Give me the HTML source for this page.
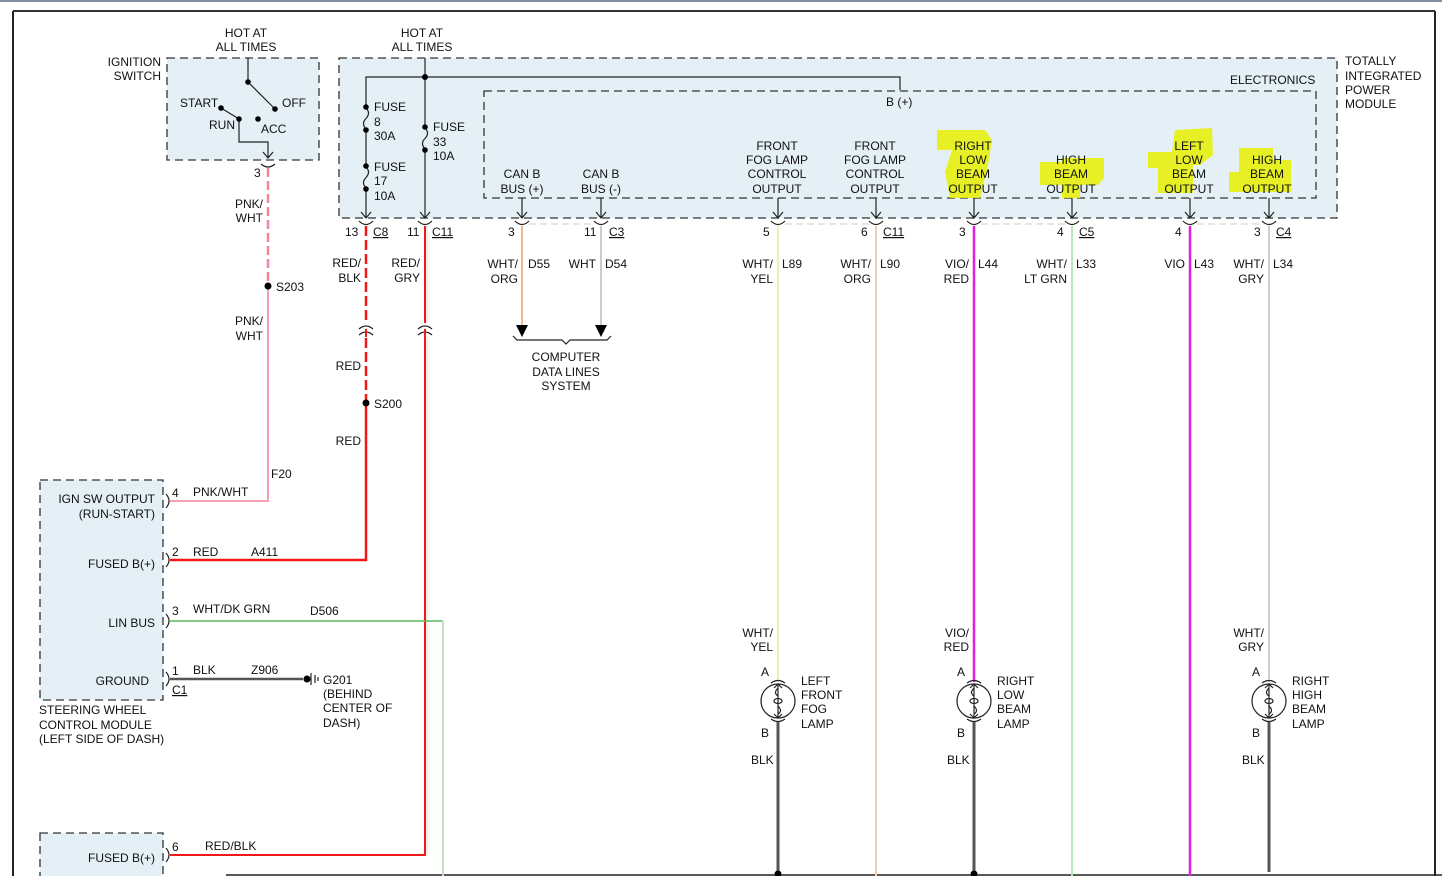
<!DOCTYPE html>
<html><head><meta charset="utf-8"><style>
html,body{margin:0;padding:0;background:#fff;}
svg{display:block;}
text{font-family:"Liberation Sans",sans-serif;font-size:12px;fill:#111;}
.r{text-anchor:end}.m{text-anchor:middle}
.box{fill:#e4f0f6;stroke:#333;stroke-width:1.3;stroke-dasharray:8,5}
.ibox{fill:none;stroke:#333;stroke-width:1.3;stroke-dasharray:8,5}
.k{stroke:#222;stroke-width:1.2;fill:none}
.hl{fill:#e8f000;opacity:.85}
</style></head><body>
<svg width="1442" height="876" viewBox="0 0 1442 876" xmlns="http://www.w3.org/2000/svg">
<rect x="0" y="0" width="1442" height="876" fill="#fff"/>
<!-- frame -->
<line x1="0" y1="1" x2="1442" y2="1" stroke="#8090a0" stroke-width="2"/>
<line x1="13" y1="11" x2="1435" y2="11" stroke="#333" stroke-width="2"/>
<line x1="13" y1="11" x2="13" y2="876" stroke="#222" stroke-width="2"/>
<line x1="1435" y1="11" x2="1435" y2="876" stroke="#222" stroke-width="2"/>
<line x1="226" y1="875" x2="1442" y2="875" stroke="#222" stroke-width="1.5"/>

<!-- Ignition switch -->
<rect class="box" x="167" y="58" width="152" height="102"/>
<text class="m" x="246" y="37">HOT AT</text><text class="m" x="246" y="51">ALL TIMES</text>
<text class="r" x="161" y="66">IGNITION</text><text class="r" x="161" y="80">SWITCH</text>
<path class="k" d="M248 58V82L275 109"/>
<circle cx="248" cy="82" r="2.8"/><circle cx="275" cy="109" r="2.8"/>
<text x="282" y="107">OFF</text>
<path class="k" d="M221 108L239 119V142H268V158M263 152L268 158L273 152"/>
<circle cx="221" cy="108" r="2.8"/><circle cx="239" cy="119" r="2.8"/><circle cx="258" cy="119" r="2.8"/>
<text x="180" y="107">START</text><text x="209" y="129">RUN</text><text x="261" y="133">ACC</text>
<path class="k" d="M261 164Q268 170 275 164"/>
<text x="254" y="177">3</text>

<!-- pink wire -->
<line x1="268" y1="168" x2="268" y2="286" stroke="#f08898" stroke-width="2.5" stroke-dasharray="9,4"/>
<line x1="268" y1="286" x2="268" y2="501" stroke="#f4a0b0" stroke-width="2"/>
<line x1="170" y1="501" x2="269" y2="501" stroke="#f4a0b0" stroke-width="2"/>
<circle cx="268" cy="286" r="3.5"/>
<text x="276" y="291">S203</text>
<text class="r" x="263" y="208">PNK/</text><text class="r" x="263" y="222">WHT</text>
<text class="r" x="263" y="325">PNK/</text><text class="r" x="263" y="340">WHT</text>
<text x="271" y="478">F20</text>

<!-- TIPM -->
<rect class="box" x="339" y="58" width="998" height="160"/>
<rect class="ibox" x="484" y="91" width="832" height="107"/>
<text class="m" x="422" y="37">HOT AT</text><text class="m" x="422" y="51">ALL TIMES</text>
<text x="1230" y="84">ELECTRONICS</text>
<text x="1345" y="65">TOTALLY</text><text x="1345" y="80">INTEGRATED</text><text x="1345" y="94">POWER</text><text x="1345" y="108">MODULE</text>
<path class="k" d="M366 218V77H900V90"/>
<line x1="425" y1="58" x2="425" y2="218" class="k"/>
<circle cx="425" cy="77" r="3"/>
<text x="886" y="106">B (+)</text>
<!-- fuses (cover straight segments) -->
<line x1="366" y1="108" x2="366" y2="129" stroke="#e4f0f6" stroke-width="3"/>
<line x1="366" y1="167" x2="366" y2="188" stroke="#e4f0f6" stroke-width="3"/>
<line x1="425" y1="128" x2="425" y2="149" stroke="#e4f0f6" stroke-width="3"/>
<path class="k" d="M366 108q5 5 0 10.5q-5 5 0 10.5M366 167q5 5 0 10.5q-5 5 0 10.5M425 128q5 5 0 10.5q-5 5 0 10.5"/>
<circle cx="366" cy="107" r="2.8"/><circle cx="366" cy="130" r="2.8"/>
<circle cx="366" cy="166" r="2.8"/><circle cx="366" cy="189" r="2.8"/>
<circle cx="425" cy="127" r="2.8"/><circle cx="425" cy="150" r="2.8"/>
<text x="374" y="111">FUSE</text><text x="374" y="126">8</text><text x="374" y="140">30A</text>
<text x="374" y="171">FUSE</text><text x="374" y="185">17</text><text x="374" y="200">10A</text>
<text x="433" y="131">FUSE</text><text x="433" y="146">33</text><text x="433" y="160">10A</text>
<path class="k" d="M361 212L366 218L371 212M420 212L425 218L430 212"/>

<!-- highlights -->
<path class="hl" d="M937 130H985L992 140L988 165L980 198H950L945 172L952 150H937Z"/>
<path class="hl" d="M1040 162H1062V158H1104V178L1098 185H1080V198H1062V185H1040Z"/>
<path class="hl" d="M1175 130L1212 128L1213 155L1200 165H1193V193H1158V168H1148V152H1172Z"/>
<path class="hl" d="M1239 148H1273V160H1291V192H1229V172H1239Z"/>

<!-- outputs labels -->
<text class="m" x="522" y="178">CAN B</text><text class="m" x="522" y="193">BUS (+)</text>
<text class="m" x="601" y="178">CAN B</text><text class="m" x="601" y="193">BUS (-)</text>
<g class="m">
<text class="m" x="777" y="150">FRONT</text><text class="m" x="777" y="164">FOG LAMP</text><text class="m" x="777" y="178">CONTROL</text><text class="m" x="777" y="193">OUTPUT</text>
<text class="m" x="875" y="150">FRONT</text><text class="m" x="875" y="164">FOG LAMP</text><text class="m" x="875" y="178">CONTROL</text><text class="m" x="875" y="193">OUTPUT</text>
<text class="m" x="973" y="150">RIGHT</text><text class="m" x="973" y="164">LOW</text><text class="m" x="973" y="178">BEAM</text><text class="m" x="973" y="193">OUTPUT</text>
<text class="m" x="1071" y="164">HIGH</text><text class="m" x="1071" y="178">BEAM</text><text class="m" x="1071" y="193">OUTPUT</text>
<text class="m" x="1189" y="150">LEFT</text><text class="m" x="1189" y="164">LOW</text><text class="m" x="1189" y="178">BEAM</text><text class="m" x="1189" y="193">OUTPUT</text>
<text class="m" x="1267" y="164">HIGH</text><text class="m" x="1267" y="178">BEAM</text><text class="m" x="1267" y="193">OUTPUT</text>
</g>
<!-- arrows from inner box -->
<path class="k" d="M522 198V218M517 212L522 218L527 212M601 198V218M596 212L601 218L606 212
M778 198V218M773 212L778 218L783 212M876 198V218M871 212L876 218L881 212
M974 198V218M969 212L974 218L979 212M1072 198V218M1067 212L1072 218L1077 212
M1190 198V218M1185 212L1190 218L1195 212M1269 198V218M1264 212L1269 218L1274 212"/>
<!-- connector cups -->
<path class="k" d="M359 221Q366 228 373 221M418 221Q425 228 432 221M515 221Q522 228 529 221M594 221Q601 228 608 221M771 221Q778 228 785 221M869 221Q876 228 883 221M967 221Q974 228 981 221M1065 221Q1072 228 1079 221M1183 221Q1190 228 1197 221M1262 221Q1269 228 1276 221"/>
<line x1="529" y1="224" x2="594" y2="224" stroke="#ccc" stroke-dasharray="7,4"/>
<line x1="785" y1="224" x2="869" y2="224" stroke="#ccc" stroke-dasharray="7,4"/>
<line x1="981" y1="224" x2="1065" y2="224" stroke="#ccc" stroke-dasharray="7,4"/>
<line x1="1197" y1="224" x2="1262" y2="224" stroke="#ccc" stroke-dasharray="7,4"/>
<!-- pin labels -->
<text x="345" y="236">13</text><text x="373" y="236" text-decoration="underline">C8</text>
<text x="407" y="236">11</text><text x="432" y="236" text-decoration="underline">C11</text>
<text x="508" y="236">3</text>
<text x="584" y="236">11</text><text x="609" y="236" text-decoration="underline">C3</text>
<text x="763" y="236">5</text>
<text x="861" y="236">6</text><text x="883" y="236" text-decoration="underline">C11</text>
<text x="959" y="236">3</text>
<text x="1057" y="236">4</text><text x="1079" y="236" text-decoration="underline">C5</text>
<text x="1175" y="236">4</text>
<text x="1254" y="236">3</text><text x="1276" y="236" text-decoration="underline">C4</text>

<!-- red wires -->
<line x1="366" y1="226" x2="366" y2="403" stroke="#f01818" stroke-width="2.5" stroke-dasharray="10,4"/>
<path d="M366 403V560H170" stroke="#f01818" stroke-width="2.5" fill="none"/>
<path d="M425 226V855H170" stroke="#f01818" stroke-width="2" fill="none"/>
<line x1="427" y1="226" x2="427" y2="855" stroke="#ddd" stroke-width="1"/>
<rect x="358" y="323" width="16" height="14" fill="#fff"/><rect x="417" y="323" width="16" height="14" fill="#fff"/>
<path class="k" d="M359 329Q366 323 373 329M359 335Q366 329 373 335M418 329Q425 323 432 329M418 335Q425 329 432 335"/>
<line x1="366" y1="329" x2="366" y2="337" stroke="#f01818" stroke-width="2"/>
<line x1="425" y1="329" x2="425" y2="337" stroke="#f01818" stroke-width="2"/>
<circle cx="366" cy="403" r="3.5"/>
<text x="374" y="408">S200</text>
<text class="r" x="361" y="267">RED/</text><text class="r" x="361" y="282">BLK</text>
<text class="r" x="420" y="267">RED/</text><text class="r" x="420" y="282">GRY</text>
<text class="r" x="361" y="370">RED</text><text class="r" x="361" y="445">RED</text>

<!-- data lines -->
<line x1="522" y1="226" x2="522" y2="326" stroke="#f0b890" stroke-width="2"/>
<line x1="601" y1="226" x2="601" y2="326" stroke="#ccc" stroke-width="2"/>
<path d="M516 325H528L522 337Z M595 325H607L601 337Z" fill="#000"/>
<path class="k" d="M513 336L517 340H562L566 344L570 340H607L611 336"/>
<text class="m" x="566" y="361">COMPUTER</text><text class="m" x="566" y="376">DATA LINES</text><text class="m" x="566" y="390">SYSTEM</text>
<text class="r" x="518" y="268">WHT/</text><text class="r" x="518" y="283">ORG</text><text x="528" y="268">D55</text>
<text class="r" x="596" y="268">WHT</text><text x="605" y="268">D54</text>

<!-- output wires -->
<line x1="778" y1="226" x2="778" y2="682" stroke="#eeeeb8" stroke-width="2"/>
<line x1="876" y1="226" x2="876" y2="876" stroke="#f0d0b0" stroke-width="2"/>
<line x1="974" y1="226" x2="974" y2="682" stroke="#e020e0" stroke-width="2.5"/>
<line x1="1072" y1="226" x2="1072" y2="876" stroke="#b8e8b8" stroke-width="2"/>
<line x1="1190" y1="226" x2="1190" y2="876" stroke="#e020e0" stroke-width="2.5"/>
<line x1="1269" y1="226" x2="1269" y2="682" stroke="#d0d0d0" stroke-width="2"/>
<text class="r" x="773" y="268">WHT/</text><text class="r" x="773" y="283">YEL</text><text x="782" y="268">L89</text>
<text class="r" x="871" y="268">WHT/</text><text class="r" x="871" y="283">ORG</text><text x="880" y="268">L90</text>
<text class="r" x="969" y="268">VIO/</text><text class="r" x="969" y="283">RED</text><text x="978" y="268">L44</text>
<text class="r" x="1067" y="268">WHT/</text><text class="r" x="1067" y="283">LT GRN</text><text x="1076" y="268">L33</text>
<text class="r" x="1185" y="268">VIO</text><text x="1194" y="268">L43</text>
<text class="r" x="1264" y="268">WHT/</text><text class="r" x="1264" y="283">GRY</text><text x="1273" y="268">L34</text>

<!-- lamps -->
<g id="lamps">
<text class="r" x="773" y="637">WHT/</text><text class="r" x="773" y="651">YEL</text>
<text class="r" x="969" y="637">VIO/</text><text class="r" x="969" y="651">RED</text>
<text class="r" x="1264" y="637">WHT/</text><text class="r" x="1264" y="651">GRY</text>
</g>
<g>
<text x="761" y="676">A</text><text x="761" y="737">B</text><text x="751" y="764">BLK</text>
<text x="801" y="685">LEFT</text><text x="801" y="699">FRONT</text><text x="801" y="713">FOG</text><text x="801" y="728">LAMP</text>
<text x="957" y="676">A</text><text x="957" y="737">B</text><text x="947" y="764">BLK</text>
<text x="997" y="685">RIGHT</text><text x="997" y="699">LOW</text><text x="997" y="713">BEAM</text><text x="997" y="728">LAMP</text>
<text x="1252" y="676">A</text><text x="1252" y="737">B</text><text x="1242" y="764">BLK</text>
<text x="1292" y="685">RIGHT</text><text x="1292" y="699">HIGH</text><text x="1292" y="713">BEAM</text><text x="1292" y="728">LAMP</text>
</g>
<g class="k">
<path d="M771 683Q778 678 785 683M771 719Q778 724 785 719M778 684V718M774 688L778 684L782 688M774 714L778 718L782 714M778 688q-5 5 0 8M778 706q5 5 0 8"/><circle cx="778" cy="701" r="17"/><ellipse cx="778" cy="701" rx="4" ry="2.5"/>
<path d="M967 683Q974 678 981 683M967 719Q974 724 981 719M974 684V718M970 688L974 684L978 688M970 714L974 718L978 714M974 688q-5 5 0 8M974 706q5 5 0 8"/><circle cx="974" cy="701" r="17"/><ellipse cx="974" cy="701" rx="4" ry="2.5"/>
<path d="M1262 683Q1269 678 1276 683M1262 719Q1269 724 1276 719M1269 684V718M1265 688L1269 684L1273 688M1265 714L1269 718L1273 714M1269 688q-5 5 0 8M1269 706q5 5 0 8"/><circle cx="1269" cy="701" r="17"/><ellipse cx="1269" cy="701" rx="4" ry="2.5"/>
</g>
<line x1="778" y1="722" x2="778" y2="872" stroke="#555" stroke-width="3"/>
<line x1="974" y1="722" x2="974" y2="872" stroke="#555" stroke-width="3"/>
<line x1="1269" y1="722" x2="1269" y2="872" stroke="#555" stroke-width="3"/>
<circle cx="778" cy="874" r="3.5"/><circle cx="974" cy="874" r="3.5"/>

<!-- steering wheel control module -->
<rect class="box" x="40" y="480" width="123" height="220"/>
<text class="r" x="155" y="503">IGN SW OUTPUT</text><text class="r" x="155" y="518">(RUN-START)</text>
<text class="r" x="155" y="568">FUSED B(+)</text>
<text class="r" x="155" y="627">LIN BUS</text>
<text class="r" x="149" y="685">GROUND</text>
<text x="39" y="714">STEERING WHEEL</text><text x="39" y="729">CONTROL MODULE</text><text x="39" y="743">(LEFT SIDE OF DASH)</text>
<path class="k" d="M166 494Q172 501 166 508M166 553Q172 560 166 567M166 614Q172 621 166 628M166 672Q172 679 166 686M166 848Q172 855 166 862"/>
<line x1="170" y1="621" x2="443" y2="621" stroke="#5cb85c" stroke-width="1.5"/>
<line x1="443" y1="621" x2="443" y2="876" stroke="#c8e0c8" stroke-width="2"/>
<line x1="170" y1="679" x2="303" y2="679" stroke="#555" stroke-width="2.5"/>
<circle cx="307" cy="679" r="3.5"/>
<path d="M311 673V685M315 675V683M318 677V681" stroke="#222" stroke-width="1.2"/>
<text x="172" y="497">4</text><text x="193" y="496">PNK/WHT</text>
<text x="172" y="556">2</text><text x="193" y="556">RED</text><text x="251" y="556">A411</text>
<text x="172" y="615">3</text><text x="193" y="613">WHT/DK GRN</text><text x="310" y="615">D506</text>
<text x="172" y="675">1</text><text x="193" y="674">BLK</text><text x="251" y="674">Z906</text>
<text x="172" y="694" text-decoration="underline">C1</text>
<text x="323" y="684">G201</text><text x="323" y="698">(BEHIND</text><text x="323" y="712">CENTER OF</text><text x="323" y="727">DASH)</text>
<rect class="box" x="40" y="833" width="123" height="50"/>
<text class="r" x="155" y="862">FUSED B(+)</text>
<text x="172" y="851">6</text><text x="205" y="850">RED/BLK</text>
</svg>
</body></html>
